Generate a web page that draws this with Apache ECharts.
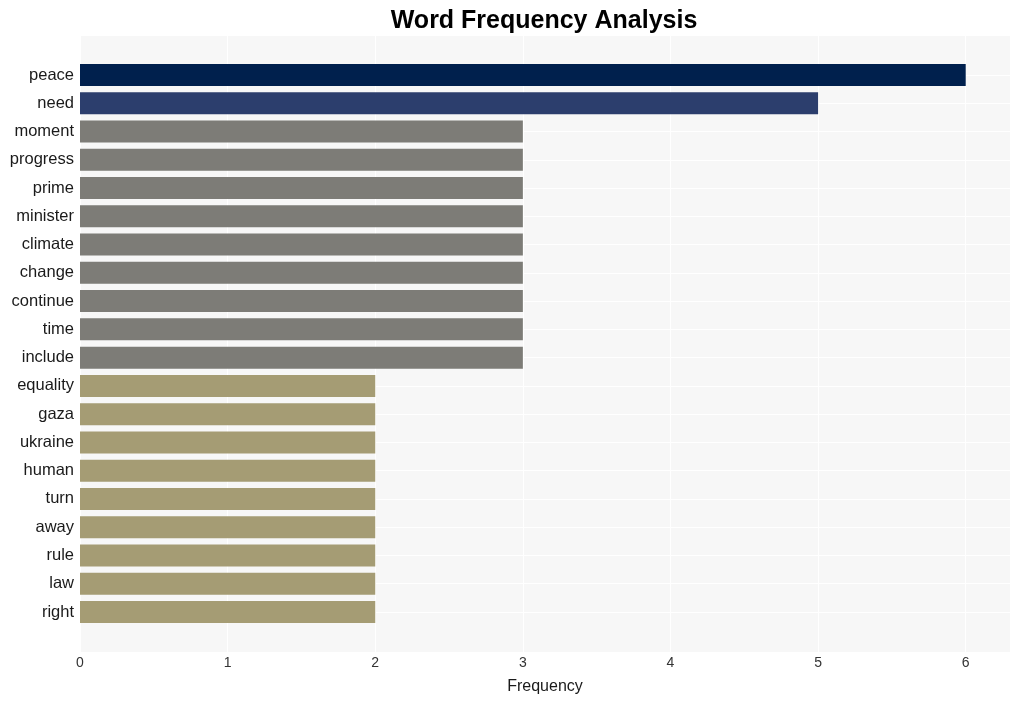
<!DOCTYPE html>
<html>
<head>
<meta charset="utf-8">
<script src="https://cdn.jsdelivr.net/npm/echarts@6/dist/echarts.min.js"></script>
<style>html,body{margin:0;padding:0;background:#fff;}#chart{width:1019px;height:701px;}</style>
</head>
<body>
<div id="chart"></div>
<script>
const words = ["peace","need","moment","progress","prime","minister","climate","change","continue","time","include","equality","gaza","ukraine","human","turn","away","rule","law","right"];
const counts = [6,5,3,3,3,3,3,3,3,3,3,2,2,2,2,2,2,2,2,2];
const barColors = {6:"#00204d",5:"#2c3e6d",3:"#7d7c77",2:"#a59c74"};
const xTicks = [0,1,2,3,4,5,6];

const chart = echarts.init(document.getElementById('chart'), null, {renderer:'canvas'});
const font = 'Liberation Sans, Arial, sans-serif';
chart.setOption({
  animation:false,
  backgroundColor:'#ffffff',
  title:{text:'Word Frequency Analysis',left:539,textAlign:'center',top:4,
    textStyle:{fontFamily:font,fontSize:25,fontWeight:'bold',color:'#000'}},
  grid:[
    {left:80,top:36,width:930,height:616,show:true,backgroundColor:'#f7f7f7',borderWidth:0},
    {left:80,top:75,width:930,height:537,show:false}
  ],
  xAxis:[
    {gridIndex:0,type:'value',min:0,max:6.3,interval:1,
     name:'Frequency',nameLocation:'middle',nameGap:27,
     nameTextStyle:{fontFamily:font,fontSize:16,color:'#1a1a1a'},
     axisLine:{show:false},axisTick:{show:false},
     axisLabel:{fontFamily:font,fontSize:14,color:'#333',margin:4,
       formatter:function(v){return xTicks.indexOf(v)>=0?String(v):'';}},
     splitLine:{show:true,lineStyle:{color:'#ffffff',width:1}}},
    {gridIndex:1,type:'value',min:0,max:6.3,interval:1,show:false,splitLine:{show:false}}
  ],
  yAxis:[
    {gridIndex:0,type:'value',show:false,splitLine:{show:false}},
    {gridIndex:1,type:'category',data:words,inverse:true,boundaryGap:false,
     axisLine:{show:false},axisTick:{show:false},
     axisLabel:{fontFamily:font,fontSize:16.5,color:'#1a1a1a',margin:6,padding:[7,0,0,0]},
     splitLine:{show:true,lineStyle:{color:'#ffffff',width:1}}}
  ],
  series:[{
    type:'bar',xAxisIndex:1,yAxisIndex:1,clip:false,barWidth:22,
    data:counts.map(function(v){return {value:v,itemStyle:{color:barColors[v]}};})
  }]
});
</script>
</body>
</html>
